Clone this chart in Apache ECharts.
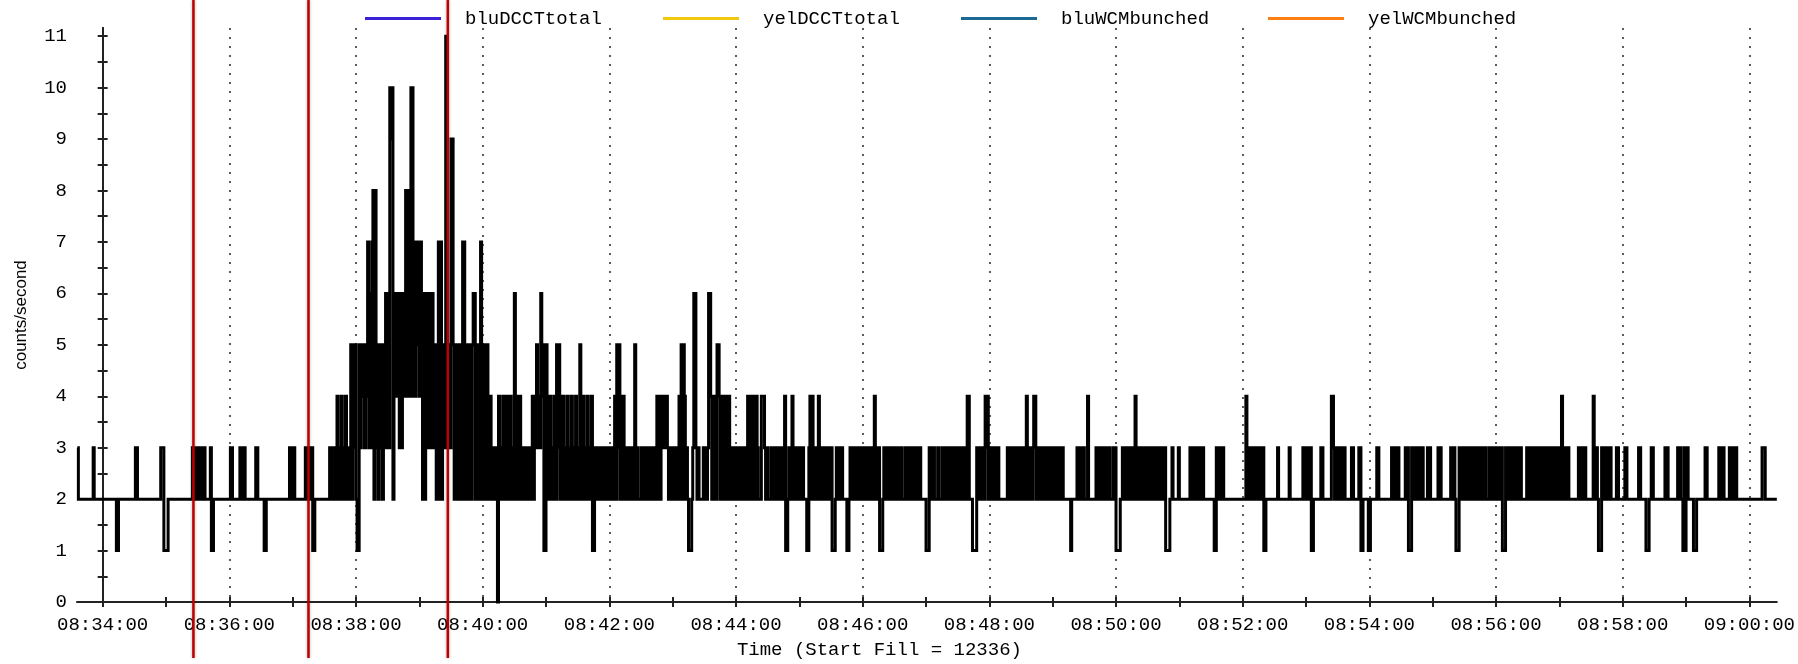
<!DOCTYPE html>
<html>
<head>
<meta charset="utf-8">
<script src="https://cdn.jsdelivr.net/npm/echarts@6/dist/echarts.min.js"></script>
<style>
html,body{margin:0;padding:0;background:#fff;}
#chart{width:1798px;height:664px;}
</style>
</head>
<body>
<div id="chart"></div>
<script>
// ---------------- DATA ----------------
// Minute rows (start of each row of per-second readings)
const minuteStarts = ['08:33','08:34','08:35','08:36','08:37','08:38','08:39','08:40','08:41','08:42',
  '08:43','08:44','08:45','08:46','08:47','08:48','08:49','08:50','08:51','08:52',
  '08:53','08:54','08:55','08:56','08:57','08:58','08:59','09:00'];

// counts/second, one character per second (hex digit: A = 10, B = 11, '.' = no reading)
const countsPerSecond = [
  '.......... .......... .......... ......3222 2222222222 2322222222', // 08:33
  '2222222222 2221122222 2222222222 2332222222 2222222222 2222233311', // 08:34
  '1122222222 2222222222 2222232323 2323233222 2231122222 2222222222', // 08:35
  '2332222222 3232322222 2222233222 2221122222 2222222222 2222222323', // 08:36
  '2322222222 2232323231 1222222222 2222232323 2342324232 4232352535', // 08:37
  '2115354535 4736378283 5253525363 63A9A26464 6363645848 64AA474757', // 08:38
  '4742626363 6363352572 72353B5353 9952525525 2772525252 5662525272', // 08:39
  '5252542423 2323042324 2432424232 6324242323 2323232424 3534364511', // 08:40
  '5242432342 5352424232 4232423242 3253242324 2324113232 3232323232', // 08:41
  '2323242535 2424323232 3232523222 3232323232 3232342423 4343432323', // 08:42
  '2323234252 5423211123 6632322223 2323664242 4255423424 2424232323', // 08:43
  '2323232323 2424242424 3222444323 2223232323 2323234112 3234232323', // 08:44
  '2323222113 4242323242 3232323232 3111232323 3222211232 3232323232', // 08:45
  '2323232323 2423231112 3232323232 3232323222 3232323232 3232322222', // 08:46
  '1113232322 2322232323 2323232323 2323232324 4222111132 3232324342', // 08:47
  '3232323232 2222222323 2323232323 2323242323 2344232323 2323232323', // 08:48
  '2323232323 2222222122 2223232323 2224222222 2323232323 2323222323', // 08:49
  '1111223232 3232323242 3232323232 3232323232 3232323111 1223222223', // 08:50
  '2222222222 3232323232 3232222222 2221132323 2322222222 2222222222', // 08:51
  '2224323232 3232323223 1122222222 2223222222 2222322222 2222222323', // 08:52
  '3232311222 2222332222 2222443232 3232323222 2223322222 3311222221', // 08:53
  '1222222332 2222222222 2323232322 2222323111 3232323232 3222232322', // 08:54
  '2222232322 2222222332 3211132323 2323232323 2323232323 2223232323', // 08:55
  '2323231113 2323232323 2323222223 2323232323 2323232232 3232322323', // 08:56
  '2342323232 2222222232 3232322222 2243232111 3232323232 2222332222', // 08:57
  '2233222222 2222233222 2211122332 2222222222 3232222222 2232322131', // 08:58
  '3322222111 2222222233 2222222222 2323232222 2323232322 2222222222', // 08:59
  '2222222222 2233322222 2222222'                                      // 09:00
];

const xTickLabels = ['08:34:00','08:36:00','08:38:00','08:40:00','08:42:00','08:44:00','08:46:00',
  '08:48:00','08:50:00','08:52:00','08:54:00','08:56:00','08:58:00','09:00:00'];
const yTickLabels = [0,1,2,3,4,5,6,7,8,9,10,11];
const axisStart = '08:33:36';
const axisEnd = '09:00:26';

const markerTimes = ['08:35:26','08:37:15','08:39:27'];

const legendNames = ['bluDCCTtotal','yelDCCTtotal','bluWCMbunched','yelWCMbunched'];
const legendColors = ['#3a22d8','#f4c80c','#1b6a94','#ff7f17'];

// ---------------- HELPERS ----------------
function toSec(t){ const p=t.split(':').map(Number); return p[0]*3600+p[1]*60+(p[2]||0); }
const T0 = toSec('08:34:00');
const rel = t => toSec(t) - T0;
function fmt(v){
  let s = Math.round(T0 + v);
  const h = Math.floor(s/3600), m = Math.floor((s%3600)/60), sec = s%60;
  const pad = n => (n<10?'0':'')+n;
  return pad(h)+':'+pad(m)+':'+pad(sec);
}

const seriesData = [];
minuteStarts.forEach((m, i) => {
  const base = rel(m + ':00');
  const chars = countsPerSecond[i].replace(/\s+/g, '');
  for (let k = 0; k < Math.min(60, chars.length); k++) {
    const c = chars[k];
    if (c === '.') continue;
    seriesData.push([base + k, parseInt(c, 16)]);
  }
});

const X_MIN = rel(axisStart) - 0.3;
const X_MAX = rel(axisEnd);
const Y_MAX = 11.16;

const labelVals = xTickLabels.map(rel);
const minuteVals = minuteStarts.slice(1).map(m => rel(m + ':00'));
const yHalf = [];
for (let i = 0; i <= 22; i++) yHalf.push(i / 2);

// ---------------- LAYOUT / STYLE ----------------
const MONO = '"Liberation Mono","DejaVu Sans Mono",monospace';
const AX = { color: '#222', width: 2 };
const legendLeft = [365, 663, 961, 1268];

const chart = echarts.init(document.getElementById('chart'), null, { renderer: 'canvas' });

// Step trace ("end" steps), drawn as one polyline through the axis scales
function renderStep(params, api) {
  if (params.dataIndex !== 0) return null;
  const pts = [];
  for (let i = 0; i < seriesData.length; i++) {
    const p = api.coord(seriesData[i]);
    if (i > 0) pts.push([p[0], pts[pts.length - 1][1]]);
    pts.push(p);
  }
  return {
    type: 'polyline', silent: true,
    shape: { points: pts },
    style: { stroke: '#000', lineWidth: 3.0, fill: null, lineJoin: 'miter', lineCap: 'butt' }
  };
}

const option = {
  animation: false,
  backgroundColor: '#ffffff',
  grid: { left: 77, right: 18, top: 28, bottom: 60 },
  legend: legendNames.map((n, i) => ({
    data: [n], left: legendLeft[i], top: 9, padding: 0,
    icon: 'rect', itemWidth: 76, itemHeight: 3, selectedMode: false,
    textStyle: { fontFamily: MONO, fontSize: 19, color: '#000', padding: [0, 0, 0, 19] }
  })),
  xAxis: [
    {
      type: 'value', min: X_MIN, max: X_MAX, position: 'bottom',
      axisLine: { show: true, lineStyle: AX },
      axisTick: { show: true, inside: false, length: 5, customValues: minuteVals, lineStyle: AX },
      axisLabel: { show: true, customValues: labelVals, formatter: v => fmt(v), margin: 13,
        fontFamily: MONO, fontSize: 19, color: '#000' },
      splitLine: { show: false },
      name: 'Time (Start Fill = 12336)', nameLocation: 'middle', nameGap: 38,
      nameTextStyle: { fontFamily: MONO, fontSize: 19, color: '#000', padding: [0, 95, 0, 0] }
    },
    {
      type: 'value', min: X_MIN, max: X_MAX, position: 'bottom',
      axisLine: { show: false },
      axisTick: { show: true, inside: true, length: 5, customValues: minuteVals, lineStyle: AX },
      axisLabel: { show: false }, splitLine: { show: false }
    },
    {
      type: 'value', min: X_MIN, max: X_MAX, position: 'bottom',
      axisLine: { show: false },
      axisTick: { show: true, length: 0, customValues: labelVals, lineStyle: { width: 0 } },
      axisLabel: { show: false },
      splitLine: { show: true, lineStyle: { color: '#333', width: 1.6, type: [2, 7] } }
    }
  ],
  yAxis: [
    {
      type: 'value', min: 0, max: Y_MAX, position: 'left',
      axisLine: { show: true, lineStyle: AX },
      axisTick: { show: true, inside: false, length: 5, customValues: yHalf, lineStyle: AX },
      axisLabel: { show: true, customValues: yTickLabels, margin: 10, fontFamily: MONO, fontSize: 19, color: '#000' },
      splitLine: { show: false },
      name: 'counts/second', nameLocation: 'middle', nameGap: 47,
      nameTextStyle: { fontFamily: '"Liberation Sans",Arial,sans-serif', fontSize: 17, color: '#000' }
    },
    {
      type: 'value', min: 0, max: Y_MAX, position: 'left',
      axisLine: { show: false },
      axisTick: { show: true, inside: true, length: 5, customValues: yHalf, lineStyle: AX },
      axisLabel: { show: false }, splitLine: { show: false }
    },
    {
      type: 'value', min: 0, max: Y_MAX, position: 'right',
      axisLine: { show: true, lineStyle: AX },
      axisTick: { show: false }, axisLabel: { show: false }, splitLine: { show: false }
    }
  ],
  series: [
    {
      type: 'custom', name: 'counts', coordinateSystem: 'cartesian2d',
      xAxisIndex: 0, yAxisIndex: 0, data: seriesData, renderItem: renderStep,
      encode: { x: 0, y: 1 }, silent: true, z: 5
    }
  ].concat(legendNames.map((n, i) => ({
    type: 'line', name: n, data: [], xAxisIndex: 0, yAxisIndex: 0,
    symbol: 'none', itemStyle: { color: legendColors[i] }, lineStyle: { color: legendColors[i], width: 3 }
  })))
};

chart.setOption(option);

const markers = markerTimes.map(t => {
  const x = chart.convertToPixel({ xAxisIndex: 0 }, rel(t));
  return {
    type: 'line', z: 100, silent: true,
    shape: { x1: x, y1: 0, x2: x, y2: 658 },
    style: { stroke: '#c00000', lineWidth: 2.5, shadowBlur: 3, shadowColor: 'rgba(0,0,0,0.35)' }
  };
});
chart.setOption({ graphic: markers });
</script>
</body>
</html>
